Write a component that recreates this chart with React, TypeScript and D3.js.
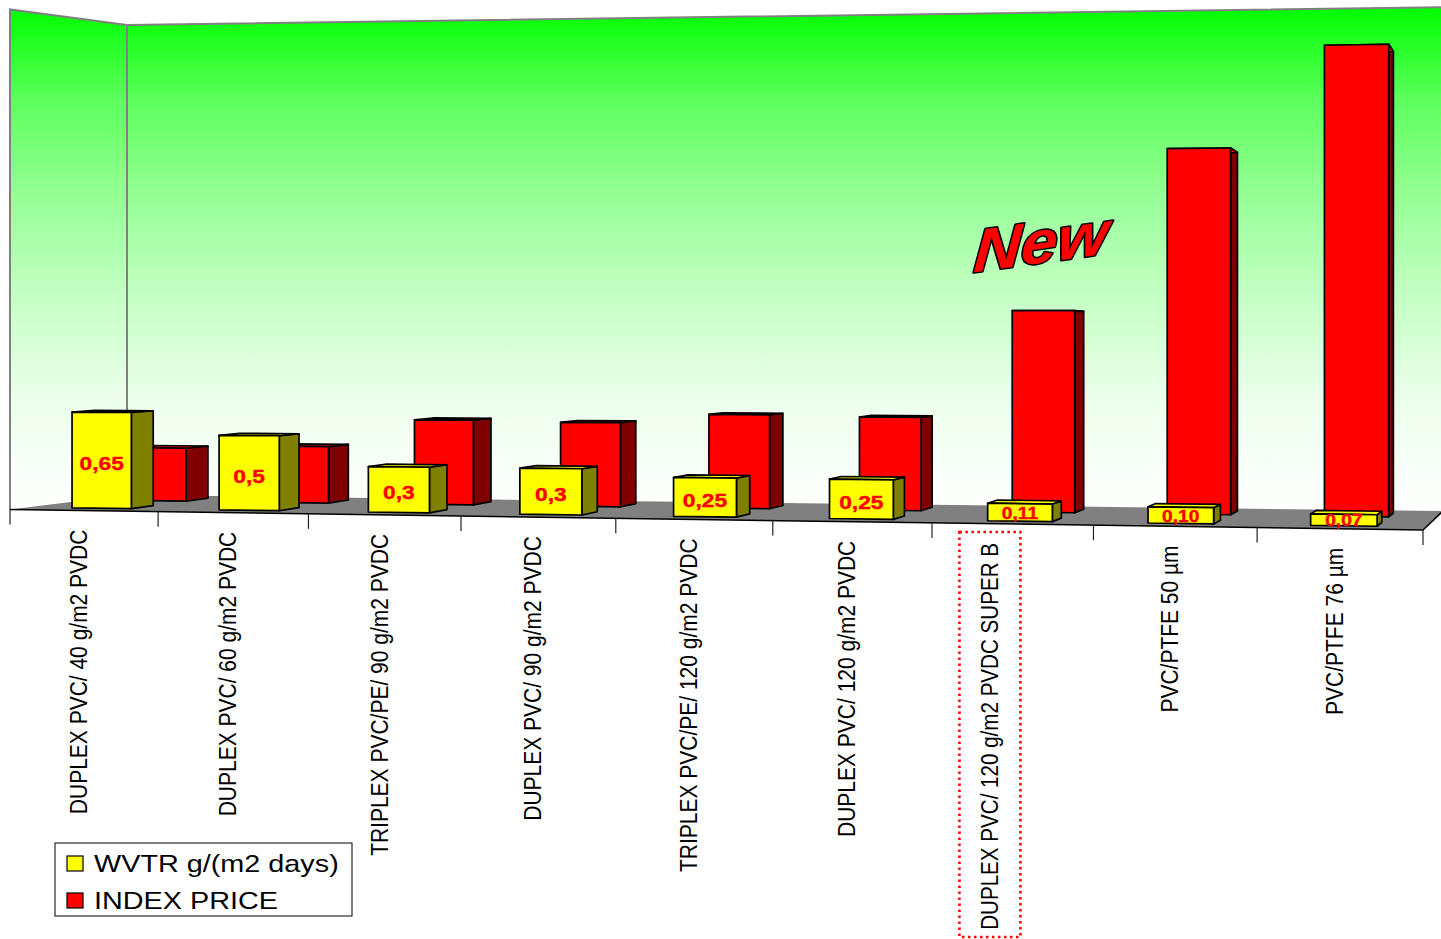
import React from "react";
import * as d3 from "d3";

// ---------------- data ----------------
const CATEGORIES = [
  "DUPLEX PVC/ 40 g/m2 PVDC",
  "DUPLEX PVC/ 60 g/m2 PVDC",
  "TRIPLEX PVC/PE/ 90 g/m2 PVDC",
  "DUPLEX PVC/ 90 g/m2 PVDC",
  "TRIPLEX PVC/PE/ 120 g/m2 PVDC",
  "DUPLEX PVC/ 120 g/m2 PVDC",
  "DUPLEX PVC/ 120 g/m2 PVDC SUPER B",
  "PVC/PTFE 50 µm",
  "PVC/PTFE 76 µm",
];
const WVTR = [0.65, 0.5, 0.3, 0.3, 0.25, 0.25, 0.11, 0.1, 0.07];
const WVTR_LABELS = ["0,65", "0,5", "0,3", "0,3", "0,25", "0,25", "0,11", "0,10", "0,07"];
const INDEX_PRICE = [0.37, 0.39, 0.58, 0.57, 0.63, 0.62, 1.33, 2.39, 3.05];
const SERIES_NAMES = ["WVTR g/(m2 days)", "INDEX PRICE"];
const VALUE_MAX = 3.38;
const HIGHLIGHT = "DUPLEX PVC/ 120 g/m2 PVDC SUPER B";
const NEW_TAG = "New";

// ---------------- styles ----------------
const W = 1441;
const H = 939;
const FONT = "'Liberation Sans', Arial, sans-serif";
const COLORS = {
  yellow: { front: "#ffff00", side: "#808000", top: "#ffff00" },
  red: { front: "#ff0000", side: "#800000", top: "#ff0000" },
};
const HIGHLIGHT_SHIFT = -18;

// ---------------- 3D projection ----------------
const PERSP = 0.136;
const warp = (u: number) => u + (PERSP / 2) * u * u;
const xFront = d3.scaleLinear().domain([0, warp(1)]).range([10, 1423]);
const yFront = d3.scaleLinear().domain([0, warp(1)]).range([509.5, 530]);
const depthDX = d3.scaleLinear().domain([0, 1]).range([117, 20]);
const depthDY = d3.scaleLinear().domain([0, 1]).range([-14.5, -19]);
const heightScale = d3.scaleLinear().domain([0, VALUE_MAX]).range([0, 500]);
const kScale = (u: number, v: number) => (1 + (PERSP - 0.064 * v) * u) * (1 - 0.06 * v);

function proj(u: number, v: number, val = 0): [number, number] {
  const x = xFront(warp(u)) + v * depthDX(u);
  const y = yFront(warp(u)) + v * depthDY(u) - heightScale(val) * kScale(u, v);
  return [x, y];
}

const line = d3.line();
const poly = (pts: [number, number][]) => (line(pts) || "") + "Z";

function Bar({ u0, u1, v0, v1, val, colors }: any) {
  const b00 = proj(u0, v0), b10 = proj(u1, v0), b11 = proj(u1, v1);
  const t00 = proj(u0, v0, val), t10 = proj(u1, v0, val), t11 = proj(u1, v1, val), t01 = proj(u0, v1, val);
  const common = { stroke: "#000", strokeWidth: 1.7, strokeLinejoin: "round" as const };
  return (
    <g>
      <path d={poly([b10, b11, t11, t10])} fill={colors.side} {...common} />
      <path d={poly([t00, t10, t11, t01])} fill={colors.top} {...common} />
      <path d={poly([b00, b10, t10, t00])} fill={colors.front} {...common} />
    </g>
  );
}

export default function App() {
  const uBand = d3
    .scaleBand<string>()
    .domain(CATEGORIES)
    .range([0, 1])
    .paddingInner(0.595)
    .paddingOuter(0.2975);
  const vBand = d3
    .scaleBand<string>()
    .domain(SERIES_NAMES)
    .range([0.06, 0.96])
    .paddingInner(0.6)
    .paddingOuter(0.2);

  const step = uBand.step();
  const bw = uBand.bandwidth();
  const vw = vBand.bandwidth();

  // walls and floor
  const FL = proj(0, 0), FR = proj(1, 0), BL = proj(0, 1), BR = proj(1, 1);
  const FLt = proj(0, 0, VALUE_MAX), BLt = proj(0, 1, VALUE_MAX), BRt = proj(1, 1, VALUE_MAX);

  const ticks = d3.range(CATEGORIES.length + 1).map((i) => proj(i * step, 0));

  const seriesRows = [
    { name: SERIES_NAMES[1], values: INDEX_PRICE, colors: COLORS.red },
    { name: SERIES_NAMES[0], values: WVTR, colors: COLORS.yellow },
  ];

  return (
    <svg
      width={W}
      height={H}
      viewBox={`0 0 ${W} ${H}`}
      style={{ position: "absolute", left: 0, top: 0, background: "#fff" }}
      fontFamily={FONT}
    >
      <defs>
        <linearGradient id="wallGrad" gradientUnits="userSpaceOnUse" x1={0} y1={7} x2={0} y2={510}>
          <stop offset="0" stopColor="#00ff00" />
          <stop offset="0.185" stopColor="#5cff5c" />
          <stop offset="0.384" stopColor="#98ff98" />
          <stop offset="0.58" stopColor="#c6ffc6" />
          <stop offset="0.78" stopColor="#ecffec" />
          <stop offset="1" stopColor="#ffffff" />
        </linearGradient>
      </defs>

      {/* walls */}
      <path d={poly([FL, BL, BLt, FLt])} fill="url(#wallGrad)" />
      <path d={poly([BL, BR, BRt, BLt])} fill="url(#wallGrad)" />
      <path d={line([FL, FLt, BLt, BRt]) || ""} fill="none" stroke="#808080" strokeWidth={2} />
      <path d={line([BL, BLt]) || ""} fill="none" stroke="#808080" strokeWidth={2} />

      {/* floor */}
      <path d={poly([FL, FR, BR, BL])} fill="#808080" />
      <path d={line([FL, FR, BR]) || ""} fill="none" stroke="#000" strokeWidth={1.5} />
      {ticks.map((p, i) => (
        <line key={i} x1={p[0]} y1={p[1]} x2={p[0]} y2={p[1] + 15} stroke="#222" strokeWidth={1.2} />
      ))}

      {/* New tag */}
      <text
        transform="translate(1040,263) rotate(-8) skewX(-12) scale(1.1,1)"
        textAnchor="middle"
        fontSize={60}
        fontWeight="bold"
        fontStyle="italic"
        fill="#ff0000"
        stroke="#000"
        strokeWidth={3}
        paintOrder="stroke"
        strokeLinejoin="round"
      >
        {NEW_TAG}
      </text>

      {/* bars: back row first */}
      {seriesRows.map((row) => {
        const v0 = vBand(row.name)!;
        return (
          <g key={row.name}>
            {CATEGORIES.map((c, i) => {
              const u0 = uBand(c)!;
              return (
                <Bar key={c} u0={u0} u1={u0 + bw} v0={v0} v1={v0 + vw} val={row.values[i]} colors={row.colors} />
              );
            })}
          </g>
        );
      })}

      {/* value labels on WVTR bars */}
      {CATEGORIES.map((c, i) => {
        const u0 = uBand(c)!;
        const v0 = vBand(SERIES_NAMES[0])!;
        const uc = u0 + bw / 2;
        const b = proj(uc, v0);
        const t = proj(uc, v0, WVTR[i]);
        const cx = (b[0] + t[0]) / 2;
        const cy = (b[1] + t[1]) / 2 + (WVTR[i] < 0.2 ? 1 : 3);
        const fs = WVTR[i] < 0.2 ? 16 : 19;
        return (
          <text
            key={c}
            transform={`translate(${cx},${cy}) scale(1.2,1)`}
            textAnchor="middle"
            dominantBaseline="central"
            fontSize={fs}
            fontWeight="bold"
            fill="#ff0000"
            stroke="#ff0000"
            strokeWidth={0.4}
          >
            {WVTR_LABELS[i]}
          </text>
        );
      })}

      {/* category labels */}
      {CATEGORIES.map((c) => {
        const uc = uBand(c)! + bw / 2;
        const p = proj(uc, 0);
        const isHi = c === HIGHLIGHT;
        const x = p[0] - 5 + (isHi ? HIGHLIGHT_SHIFT : 0);
        const y = p[1] + 19;
        return (
          <g key={c}>
            {isHi && (
              <rect
                x={x - 30}
                y={y - 11}
                width={61}
                height={405}
                fill="none"
                stroke="#ff0000"
                strokeWidth={2.5}
                strokeDasharray="2.5 3.5"
              />
            )}
            <text
              transform={`translate(${x},${y}) scale(1.12,1) rotate(-90)`}
              textAnchor="end"
              dy="0.35em"
              fontSize={isHi ? 20.6 : 21}
              fill="#000"
            >
              {c}
            </text>
          </g>
        );
      })}

      {/* legend */}
      <g>
        <rect x={55} y={843} width={297} height={73} fill="#fff" stroke="#000" strokeWidth={1} />
        {SERIES_NAMES.map((s, i) => (
          <g key={s} transform={`translate(0,${i * 37})`}>
            <rect
              x={67}
              y={856}
              width={16}
              height={15}
              fill={i === 0 ? COLORS.yellow.front : COLORS.red.front}
              stroke="#000"
              strokeWidth={1.2}
            />
            <text transform="translate(94,872) scale(1.2,1)" fontSize={24} fill="#000">
              {s}
            </text>
          </g>
        ))}
      </g>
    </svg>
  );
}
